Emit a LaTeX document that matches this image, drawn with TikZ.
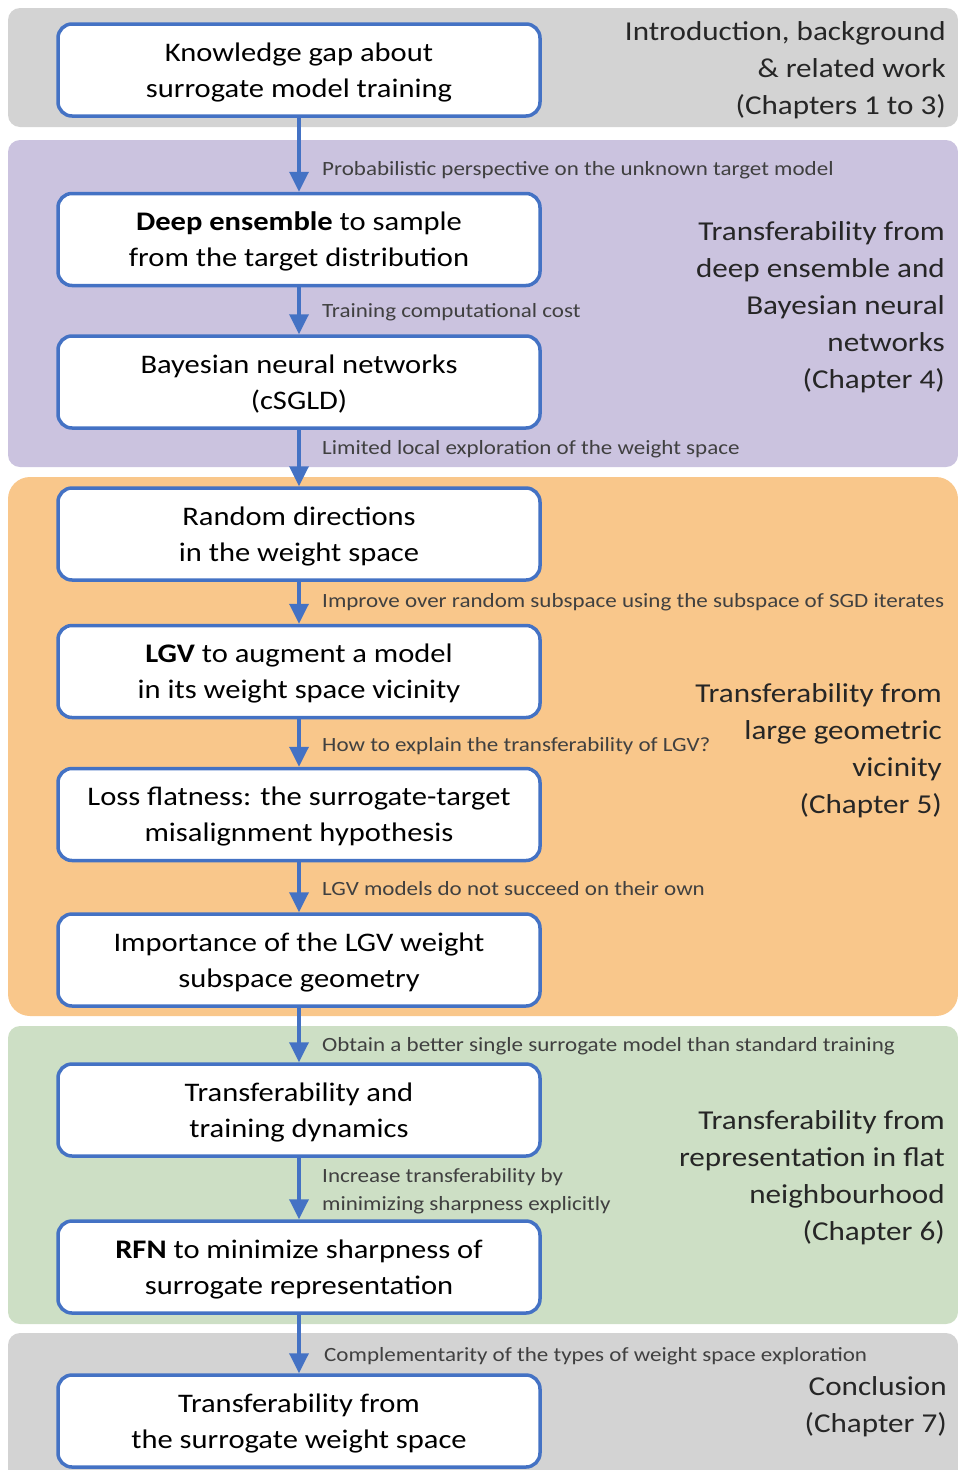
\documentclass[tikz,border=0pt]{standalone}
\usepackage{fontspec}
\setmainfont{Carlito}[FakeStretch=1.14]
\usetikzlibrary{arrows.meta}
\definecolor{bandgray}{RGB}{211,211,211}
\definecolor{bandpurple}{RGB}{203,195,223}
\definecolor{bandorange}{RGB}{249,199,139}
\definecolor{bandgreen}{RGB}{205,223,197}
\definecolor{flowblue}{RGB}{68,114,196}
\definecolor{notegray}{RGB}{64,64,64}
\definecolor{titlegray}{RGB}{38,38,38}
\tikzset{
  stepbox/.style={draw=flowblue, line width=3.5pt, rounded corners=14pt, fill=white,
    minimum width=482pt, minimum height=92pt, inner sep=0pt, align=center,
    text height=62pt, text depth=7.4pt,
    font=\fontsize{26.8}{36}\selectfont},
  flow/.style={draw=flowblue, line width=3.5pt, -{Triangle[width=19pt,length=20pt]}},
  note/.style={anchor=base west, inner sep=0pt, text=notegray, align=left,
    font=\fontsize{20.2}{28}\selectfont},
  part/.style={anchor=base east, inner sep=0pt, text=titlegray, align=right,
    font=\fontsize{27.3}{37.1}\selectfont},
  band/.style={rounded corners=12pt},
}
\begin{document}
\begin{tikzpicture}[x=1pt,y=-1pt]
\useasboundingbox (0,0) rectangle (958,1470);
% chapter bands
\fill[bandgray,band]   (8,8)     rectangle (958,127);
\fill[bandpurple,band] (8,140)   rectangle (958,467);
\fill[bandorange,rounded corners=22pt] (8,477) rectangle (958,1016);
\fill[bandgreen,band]  (8,1026)  rectangle (958,1324);
\fill[bandgray,band]   (8,1333)  rectangle (958,1490);

% flow steps
\node[stepbox] (b1)  at (299,70)    {Knowledge gap about\\surrogate model training};
\node[stepbox] (b2)  at (299,239.5) {\textbf{Deep ensemble} to sample\\from the target distribution};
\node[stepbox] (b3)  at (299,382)   {Bayesian neural networks\\(cSGLD)};
\node[stepbox] (b4)  at (299,534)   {Random directions\\in the weight space};
\node[stepbox] (b5)  at (299,671.5) {\textbf{LGV} to augment a model\\in its weight space vicinity};
\node[stepbox] (b6)  at (299,814.5) {Loss flatness: the surrogate-target\\misalignment hypothesis};
\node[stepbox] (b7)  at (299,960)   {Importance of the LGV weight\\subspace geometry};
\node[stepbox] (b8)  at (299,1110)  {Transferability and\\training dynamics};
\node[stepbox] (b9)  at (299,1267)  {\textbf{RFN} to minimize sharpness of\\surrogate representation};
\node[stepbox] (b10) at (299,1421)  {Transferability from\\the surrogate weight space};

% connectors
\draw[flow] (b1) -- (b2);
\draw[flow] (b2) -- (b3);
\draw[flow] (b3) -- (b4);
\draw[flow] (b4) -- (b5);
\draw[flow] (b5) -- (b6);
\draw[flow] (b6) -- (b7);
\draw[flow] (b7) -- (b8);
\draw[flow] (b8) -- (b9);
\draw[flow] (b9) -- (b10);

% connector notes
\node[note] (n1) at (322,175)  {Probabilistic perspective on the unknown target model};
\node[note] (n2) at (322,317)  {Training computational cost};
\node[note] (n3) at (322,454)  {Limited local exploration of the weight space};
\node[note] (n4) at (322,607)  {Improve over random subspace using the subspace of SGD iterates};
\node[note] (n5) at (322,751)  {How to explain the transferability of LGV?};
\node[note] (n6) at (322,895)  {LGV models do not succeed on their own};
\node[note] (n7) at (322,1051) {Obtain a better single surrogate model than standard training};
\node[note] (n8) at (322,1210) {Increase transferability by\\minimizing sharpness explicitly};
\node[note] (n9) at (324,1361) {Complementarity of the types of weight space exploration};

% chapter titles (anchored at the last baseline)
\node[part] (t1) at (946,114.5)  {Introduction, background\\\& related work\\(Chapters 1 to 3)};
\node[part] (t2) at (945,388.5)  {Transferability from\\deep ensemble and\\Bayesian neural\\networks\\(Chapter 4)};
\node[part] (t3) at (942,813.5)  {Transferability from\\large geometric\\vicinity\\(Chapter 5)};
\node[part] (t4) at (945,1240.5) {Transferability from\\representation in flat\\neighbourhood\\(Chapter 6)};
\node[part] (t5) at (947,1432.5) {Conclusion\\(Chapter 7)};
\end{tikzpicture}
\end{document}
